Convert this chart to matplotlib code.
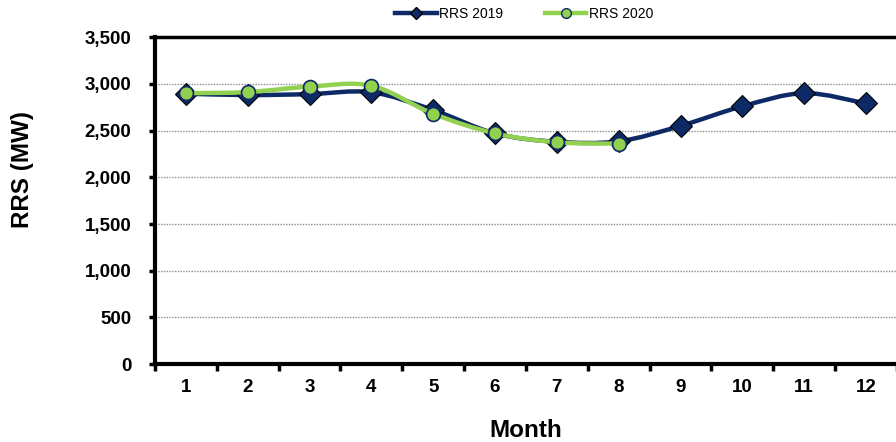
import numpy as np
import matplotlib
matplotlib.use("Agg")
import matplotlib.pyplot as plt
from matplotlib.path import Path
from matplotlib.patches import PathPatch
from matplotlib.lines import Line2D

plt.rcParams['font.family'] = ['Liberation Sans', 'DejaVu Sans']

# data
months = [1, 2, 3, 4, 5, 6, 7, 8, 9, 10, 11, 12]
rrs_2019 = [2895, 2880, 2890, 2910, 2720, 2470, 2380, 2385, 2550, 2760, 2900, 2790]
months_2020 = [1, 2, 3, 4, 5, 6, 7, 8]
rrs_2020 = [2900, 2912, 2970, 2980, 2680, 2470, 2375, 2360]

navy = '#0D2A66'
green = '#92D050'


def smooth_path(ax, x, y, color, lw, z):
    # Excel style smoothed line: cardinal bezier through the points
    x = np.asarray(x, float)
    y = np.asarray(y, float)
    t = 1 / 6
    verts = [(x[0], y[0])]
    codes = [Path.MOVETO]
    n = len(x)
    for i in range(n - 1):
        p0 = (x[max(i - 1, 0)], y[max(i - 1, 0)])
        p1 = (x[i], y[i])
        p2 = (x[i + 1], y[i + 1])
        p3 = (x[min(i + 2, n - 1)], y[min(i + 2, n - 1)])
        c1 = (p1[0] + (p2[0] - p0[0]) * t, p1[1] + (p2[1] - p0[1]) * t)
        c2 = (p2[0] - (p3[0] - p1[0]) * t, p2[1] - (p3[1] - p1[1]) * t)
        verts += [c1, c2, p2]
        codes += [Path.CURVE4] * 3
    ax.add_patch(PathPatch(Path(verts, codes), facecolor='none', edgecolor=color,
                           lw=lw, zorder=z, capstyle='round', joinstyle='round'))


fig = plt.figure(figsize=(8.96, 4.42), dpi=100)
ax = fig.add_axes([0.173, 0.176, 0.828, 0.740])

smooth_path(ax, months, rrs_2019, navy, 3.2, 3)
ax.plot(months, rrs_2019, ls='none', marker='D', ms=11, mfc=navy, mec='black',
        mew=0.8, zorder=4)
smooth_path(ax, months_2020, rrs_2020, green, 3.2, 5)
ax.plot(months_2020, rrs_2020, ls='none', marker='o', ms=10, mfc=green, mec=navy,
        mew=1.2, zorder=6)

ax.set_xlim(0.5, 12.5)
ax.set_ylim(0, 3500)
ax.set_yticks(range(0, 3501, 500))
ax.set_yticklabels([f'{v:,}' for v in range(0, 3501, 500)])
ax.set_xticks(months)
ax.set_xticks(np.arange(0.5, 13, 1), minor=True)
ax.tick_params(axis='x', which='major', length=0, pad=11)
ax.tick_params(axis='x', which='minor', length=5, width=2.5, direction='out')
ax.tick_params(axis='y', length=4, width=2.5, direction='out', pad=13)
for lab in ax.get_xticklabels() + ax.get_yticklabels():
    lab.set_fontweight('bold')
    lab.set_fontsize(13.5)

ax.grid(axis='y', color='#8c8c8c', ls=(0, (1, 1)), lw=1)
ax.set_axisbelow(True)
for s in ['left', 'bottom']:
    ax.spines[s].set_linewidth(3)
ax.spines['top'].set_linewidth(2.5)
ax.spines['right'].set_visible(False)

ax.set_xlabel('Month', fontsize=17.5, fontweight='bold', labelpad=16)
fig.text(23 / 896, 1 - 170 / 442, 'RRS (MW)', rotation=90, ha='center', va='center',
         fontsize=17.5, fontweight='bold')

handles = [
    Line2D([], [], color=navy, lw=3.2, marker='D', ms=6, mfc=navy, mec='black'),
    Line2D([], [], color=green, lw=3.2, marker='o', ms=7, mfc=green, mec=navy),
]
fig.legend(handles, ['RRS 2019', 'RRS 2020'], loc='center', bbox_to_anchor=(0.585, 0.968),
           ncol=2, frameon=False, fontsize=10, handlelength=3.0, handletextpad=0.15,
           columnspacing=3.0)

fig.savefig('out.png', dpi=100)
